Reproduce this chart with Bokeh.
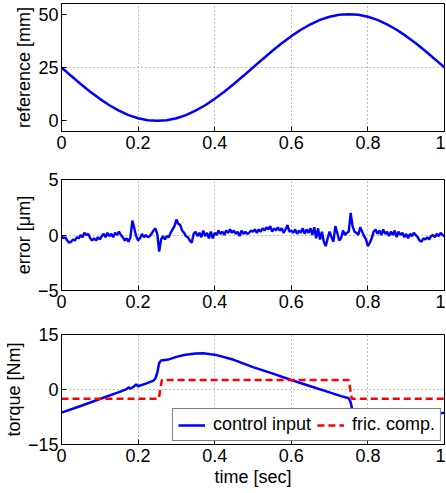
from bokeh.plotting import figure
from bokeh.layouts import column
from bokeh.models import FixedTicker, CustomJSTickFormatter, Range1d
from bokeh.embed import file_html
from bokeh.resources import INLINE

# ---------------- data ----------------
ref_t = [0.0, 0.025, 0.05, 0.075, 0.1, 0.125, 0.15, 0.175, 0.2, 0.225, 0.25,
         0.275, 0.3, 0.325, 0.35, 0.375, 0.4, 0.425, 0.45, 0.475, 0.5,
         0.525, 0.55, 0.575, 0.6, 0.625, 0.65, 0.675, 0.7, 0.725, 0.75,
         0.775, 0.8, 0.825, 0.85, 0.875, 0.9, 0.925, 0.95, 0.975, 1.0]
ref_mm = [25.0, 21.1, 17.3, 13.6, 10.3, 7.3, 4.8, 2.7, 1.2, 0.3, 0.0,
          0.3, 1.2, 2.7, 4.8, 7.3, 10.3, 13.6, 17.3, 21.1, 25.0,
          28.9, 32.7, 36.4, 39.7, 42.7, 45.2, 47.3, 48.8, 49.7, 50.0,
          49.7, 48.8, 47.3, 45.2, 42.7, 39.7, 36.4, 32.7, 28.9, 25.0]

err_um = [-0.1, -0.3, -0.2, -0.5, -0.7, -0.6, -0.4, -0.5, -0.2, -0.3,
          0.0, -0.2, 0.2, 0.0, 0.1, -0.3, -0.5, -0.3, -0.5, -0.2,
          -0.4, -0.1, 0.1, -0.2, 0.2, -0.1, 0.1, -0.2, 0.2, 0.0,
          0.3, 0.0, -0.2, -0.5, -0.3, -0.6, -0.2, 1.3, 0.6, -0.1,
          -0.5, -0.3, 0.1, -0.2, 0.0, -0.2, -0.1, 0.1, 0.4, 0.6,
          0.1, -1.5, -0.4, -0.1, -0.4, -0.1, -0.2, 0.2, 0.5, 0.8,
          1.4, 1.0, 0.9, 0.4, 0.2, -0.1, -0.2, -0.5, -0.7, 0.1,
          0.3, -0.1, 0.2, -0.2, 0.4, -0.1, 0.2, -0.3, 0.3, -0.3,
          0.2, 0.0, 0.4, 0.1, 0.3, 0.0, 0.4, 0.2, 0.5, 0.2,
          0.4, 0.1, 0.3, -0.1, 0.4, 0.1, 0.3, 0.1, 0.2, 0.4,
          0.3, 0.5, 0.2, 0.5, 0.3, 0.6, 0.4, 0.7, 0.5, 0.8,
          0.3, 0.6, 0.4, 0.7, 0.4, 0.6, 0.2, 0.5, 0.9, 0.3,
          0.4, 0.2, 0.5, 0.1, 0.4, 0.2, 0.6, 0.1, 0.5, 0.2,
          0.6, 0.0, 0.7, -0.3, 0.6, -0.4, 0.3, -0.6, -1.0, -0.3,
          0.3, -0.2, -0.6, 0.8, 0.2, -0.5, -0.3, 0.4, 0.0, 0.2,
          0.3, 2.0, 0.8, 0.3, 0.2, 0.0, 0.7, 0.3, -0.1, -0.4,
          -1.0, -0.7, -0.3, 0.3, 0.5, 0.1, 0.4, 0.0, 0.5, 0.1,
          0.3, -0.1, 0.3, 0.0, 0.4, -0.2, 0.3, 0.0, 0.2, -0.2,
          0.1, -0.3, 0.1, -0.1, 0.2, 0.0, -0.2, -0.5, -0.6, -0.3,
          -0.4, -0.2, -0.4, -0.1, 0.0, -0.2, 0.1, -0.1, 0.2, 0.0,
          -0.1]
err_t = [i * 0.005 for i in range(len(err_um))]

ctrl_t = [0.0, 0.05, 0.1, 0.15, 0.17, 0.175, 0.18, 0.19, 0.195, 0.2, 0.22,
          0.24, 0.245, 0.25, 0.255, 0.26, 0.28, 0.3, 0.32, 0.35, 0.37, 0.4,
          0.45, 0.5, 0.55, 0.6, 0.65, 0.7, 0.73, 0.75, 0.755, 0.76, 0.765,
          0.77, 0.8, 0.85, 0.9, 0.95, 1.0]
ctrl_nm = [-6.3, -4.5, -2.6, -0.7, 0.1, 0.6, 0.2, 0.9, 1.4, 0.9, 1.6,
           2.4, 3.0, 4.5, 7.2, 7.9, 8.2, 8.9, 9.4, 9.8, 9.9, 9.5,
           8.1, 6.1, 4.4, 2.6, 0.9, -0.8, -1.8, -2.4, -3.5, -6.0, -9.0,
           -9.5, -9.8, -9.3, -8.4, -7.4, -6.3]

fric_t = [0.0, 0.254, 0.262, 0.75, 0.758, 1.0]
fric_nm = [-2.5, -2.5, 2.6, 2.6, -2.5, -2.5]

x_ticks = [0, 0.2, 0.4, 0.6, 0.8, 1.0]
ref_ticks = [0, 25, 50]
err_ticks = [-5, 0, 5]
trq_ticks = [-15, 0, 15]

FONT = "Liberation Sans"
FS = "18px"
BLUE = "#0000ff"
RED = "#ff0000"

fmt = CustomJSTickFormatter(code="""
    var v = Math.round(tick * 10) / 10;
    return v < 0 ? "\\u2212" + String(-v) : String(v);
""")

FRAME_W = 389
LEFT = 55


def make_fig(yr, yticks, ylabel, frame_h, top, bottom, xlabel=None):
    p = figure(width=LEFT + FRAME_W + 1, height=top + frame_h + bottom,
               x_range=Range1d(0, 1), y_range=Range1d(*yr),
               output_backend="svg", toolbar_location=None,
               min_border_left=LEFT, min_border_right=1,
               min_border_top=top, min_border_bottom=bottom,
               background_fill_color="white", border_fill_color="white")
    p.outline_line_color = "black"
    p.outline_line_width = 1
    p.outline_line_alpha = 1.0

    p.xaxis.ticker = FixedTicker(ticks=x_ticks)
    p.yaxis.ticker = FixedTicker(ticks=yticks)
    for ax in (p.xaxis[0], p.yaxis[0]):
        ax.formatter = fmt
        ax.major_tick_in = 5
        ax.major_tick_out = 0
        ax.minor_tick_line_color = None
        ax.major_tick_line_color = "black"
        ax.axis_line_color = "black"
        ax.major_label_text_font = FONT
        ax.major_label_text_font_size = FS
        ax.major_label_text_color = "black"
        ax.axis_label_text_font = FONT
        ax.axis_label_text_font_size = FS
        ax.axis_label_text_font_style = "normal"
        ax.axis_label_text_color = "black"
    p.xaxis.major_label_standoff = 4
    p.yaxis.major_label_standoff = 3
    p.yaxis.axis_label = ylabel
    p.yaxis.axis_label_standoff = 1
    if xlabel:
        p.xaxis.axis_label = xlabel
        p.xaxis.axis_label_standoff = 2

    for g in (p.xgrid[0], p.ygrid[0]):
        g.grid_line_color = "#808080"
        g.grid_line_dash = "1 3"
        g.grid_line_width = 1
    p.xgrid.ticker = FixedTicker(ticks=x_ticks[1:-1])
    p.ygrid.ticker = FixedTicker(ticks=yticks[1:-1])
    return p


p1 = make_fig((-5, 55), ref_ticks, "reference [mm]", 128, 3, 37)
p1.line(ref_t, ref_mm, line_color=BLUE, line_width=2.5)

p2 = make_fig((-5, 5), err_ticks, "error [\u03bcm]", 111, 11, 33)
p2.line(err_t, err_um, line_color=BLUE, line_width=2.4)

p3 = make_fig((-15, 15), trq_ticks, "torque [Nm]", 111, 11, 44, xlabel="time [sec]")
p3.line(ctrl_t, ctrl_nm, line_color=BLUE, line_width=2.5, legend_label="control input")
p3.line(fric_t, fric_nm, line_color=RED, line_width=2.5, line_dash="7 4",
        legend_label="fric. comp.")
lg = p3.legend[0]
lg.orientation = "horizontal"
lg.location = "bottom_right"
lg.margin = 3
lg.padding = 5
lg.spacing = 6
lg.glyph_width = 27
lg.glyph_height = 18
lg.label_standoff = 8
lg.label_text_font = FONT
lg.label_text_font_size = FS
lg.label_text_color = "black"
lg.border_line_color = "black"
lg.border_line_width = 1
lg.background_fill_color = "white"
lg.background_fill_alpha = 1.0

layout = column(p1, p2, p3, spacing=0)

open("out.html", "w").write(file_html(layout, INLINE))
